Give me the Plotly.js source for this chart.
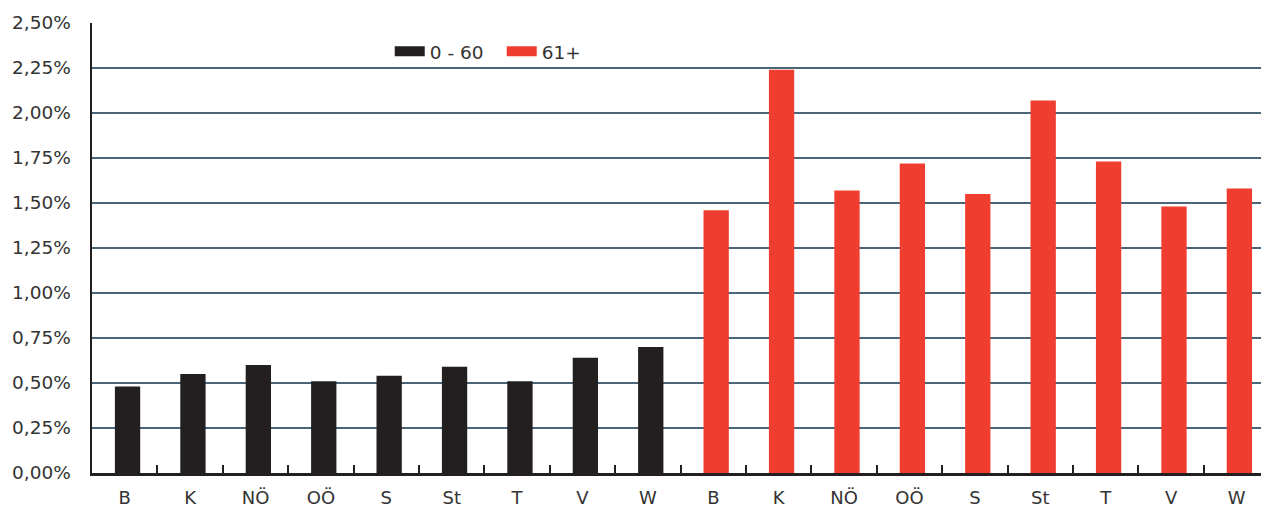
<!DOCTYPE html>
<html>
<head>
<meta charset="utf-8">
<script src="https://cdn.plot.ly/plotly-3.0.1.min.js"></script>
<style>html,body{margin:0;padding:0;background:#fff;}#chart{width:1261px;height:508px;}</style>
</head>
<body>
<div id="chart"></div>
<script>
// Regions (Bundesländer), repeated for the two age groups
const regions = ["B", "K", "NÖ", "OÖ", "S", "St", "T", "V", "W"];
// Values in percent
const young = [0.48, 0.55, 0.60, 0.51, 0.54, 0.59, 0.51, 0.64, 0.70];   // 0 - 60
const old   = [1.46, 2.24, 1.57, 1.72, 1.55, 2.07, 1.73, 1.48, 1.58];   // 61+
const seriesNames = ["0 - 60", "61+"];
const yTicks = [0, 0.25, 0.5, 0.75, 1, 1.25, 1.5, 1.75, 2, 2.25, 2.5];
const yTickText = yTicks.map(v => v.toFixed(2).replace(".", ",") + "%");

const colBlack = "#231f20";
const colRed = "#ef3e2f";
const n = regions.length;
const xYoung = regions.map((_, i) => i);
const xOld = regions.map((_, i) => i + n);
const allPos = xYoung.concat(xOld);
const allLabels = regions.concat(regions);
const boundaries = allPos.slice(1).map(p => p - 0.5);

const font = "DejaVu Sans, Open Sans, sans-serif";
const xRange = [-0.5, 17.374];
const barW = 0.387;
const barOff = -0.15;

const traces = [
  {type: "bar", x: xYoung, y: young, name: seriesNames[0], width: barW, offset: barOff,
   marker: {color: colBlack}, showlegend: false, hoverinfo: "skip"},
  {type: "bar", x: xOld, y: old, name: seriesNames[1], width: barW, offset: barOff,
   marker: {color: colRed}, showlegend: false, hoverinfo: "skip"},
  {type: "scatter", mode: "lines", x: [null], y: [null], name: seriesNames[0],
   xaxis: "x2", line: {color: colBlack, width: 10}},
  {type: "scatter", mode: "lines", x: [null], y: [null], name: seriesNames[1],
   xaxis: "x2", line: {color: colRed, width: 10}}
];

const layout = {
  width: 1261, height: 508,
  margin: {l: 92, r: 0, t: 23, b: 35, pad: 0},
  paper_bgcolor: "#fff", plot_bgcolor: "#fff",
  font: {family: font, size: 19, color: "#333"},
  barmode: "overlay",
  xaxis: {
    range: xRange, tickvals: allPos, ticktext: allLabels,
    ticks: "", showgrid: false, zeroline: false,
    showline: true, linecolor: colBlack, linewidth: 2.5,
    ticklabelstandoff: 7,
    tickfont: {family: font, size: 18, color: "#333"}, fixedrange: true
  },
  xaxis2: {
    overlaying: "x", anchor: "y", side: "bottom", range: xRange,
    tickmode: "array", tickvals: boundaries, ticks: "inside", ticklen: 8, tickwidth: 2,
    tickcolor: colBlack, showticklabels: false, showgrid: false,
    zeroline: false, showline: false, fixedrange: true
  },
  yaxis: {
    range: [0, 2.5], tickvals: yTicks, ticktext: yTickText,
    showgrid: true, gridcolor: "#4a6478", gridwidth: 1.5,
    zeroline: false, showline: true, linecolor: colBlack, linewidth: 2.5,
    ticks: "", ticklabelstandoff: 15,
    tickfont: {family: font, size: 18.5, color: "#333"}, fixedrange: true
  },
  legend: {
    orientation: "h", x: 0.2547, xanchor: "left", y: 0.936, yanchor: "middle",
    entrywidth: 67, entrywidthmode: "pixels",
    bgcolor: "rgba(0,0,0,0)", font: {family: font, size: 18.5, color: "#333"},
    itemclick: false, itemdoubleclick: false
  },
  showlegend: true
};

Plotly.newPlot("chart", traces, layout, {staticPlot: true, displayModeBar: false});
</script>
</body>
</html>
